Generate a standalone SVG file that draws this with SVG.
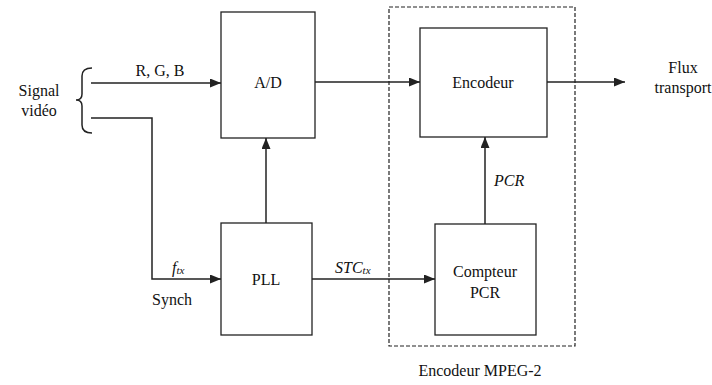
<svg xmlns="http://www.w3.org/2000/svg" width="712" height="385" viewBox="0 0 712 385">
<style>
.box{fill:#fff;stroke:#222;stroke-width:1.3}
.ln{fill:none;stroke:#222;stroke-width:1.5}
text{font-size:16px;fill:#111}
.i{font-style:italic}
</style>
<defs>
<marker id="ah" markerWidth="11" markerHeight="9" refX="11" refY="4.5" orient="auto" markerUnits="userSpaceOnUse">
<path d="M0,0 L11,4.5 L0,9 Z" fill="#222"/>
</marker>
</defs>
<rect width="712" height="385" fill="#fff"/>
<g font-family="Liberation Serif, Times New Roman, Times, Noto Serif, FreeSerif, DejaVu Serif, serif">
<g id="mpeg2">
<rect x="389" y="7" width="186" height="339" fill="none" stroke="#222" stroke-width="1.2" stroke-dasharray="4,2"/>
<text x="480" y="376" text-anchor="middle">Encodeur MPEG-2</text>
</g>
<g id="signal">
<text x="39" y="96" text-anchor="middle">Signal</text>
<text x="39" y="116" text-anchor="middle">vidéo</text>
<path class="ln" stroke-width="1.2" d="M92,68 Q82,68 82,76 L82,94 Q82,100 76,100 Q82,100 82,106 L82,125 Q82,133 92,133"/>
</g>
<g id="ad"><rect class="box" x="221" y="12" width="94" height="126"/><text x="268" y="88" text-anchor="middle">A/D</text></g>
<g id="pll"><rect class="box" x="221" y="223" width="91" height="112"/><text x="266" y="285" text-anchor="middle">PLL</text></g>
<g id="encodeur"><rect class="box" x="420" y="28" width="127" height="109"/><text x="483" y="88" text-anchor="middle">Encodeur</text></g>
<g id="compteur"><rect class="box" x="435" y="224" width="101" height="111"/><text x="485" y="277" text-anchor="middle">Compteur</text><text x="485" y="298" text-anchor="middle">PCR</text></g>
<g id="flux"><text x="683" y="73" text-anchor="middle">Flux</text><text x="683" y="93" text-anchor="middle">transport</text></g>
<g id="connectors">
<line class="ln" x1="91" y1="83" x2="221" y2="83" marker-end="url(#ah)"/>
<text x="160" y="76" text-anchor="middle">R, G, B</text>
<polyline class="ln" points="91,118 152,118 152,279 221,279" marker-end="url(#ah)"/>
<text class="i" x="172" y="273">f<tspan font-size="11" dy="1">tx</tspan></text>
<text x="172" y="305" text-anchor="middle">Synch</text>
<line class="ln" x1="266" y1="223" x2="266" y2="138" marker-end="url(#ah)"/>
<line class="ln" x1="315" y1="82" x2="420" y2="82" marker-end="url(#ah)"/>
<line class="ln" x1="312" y1="279" x2="435" y2="279" marker-end="url(#ah)"/>
<text class="i" x="335" y="273">STC<tspan font-size="11" dy="1">tx</tspan></text>
<line class="ln" x1="485" y1="224" x2="485" y2="137" marker-end="url(#ah)"/>
<text class="i" x="494" y="186">PCR</text>
<line class="ln" x1="547" y1="82" x2="625" y2="82" marker-end="url(#ah)"/>
</g>
</g>
</svg>
